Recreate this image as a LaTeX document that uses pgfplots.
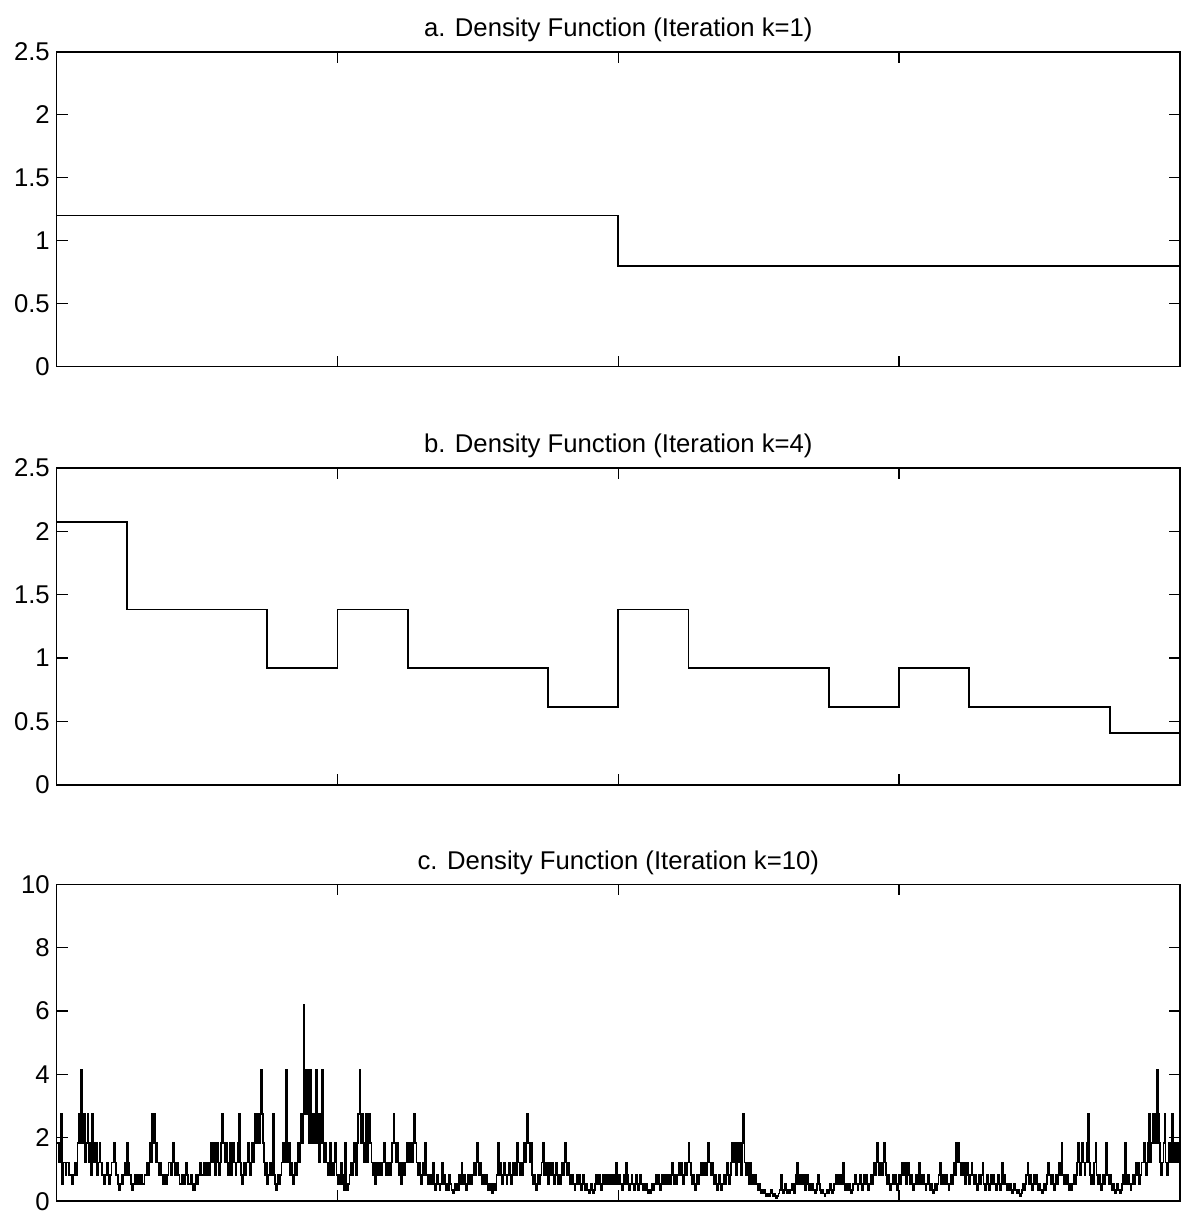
\documentclass[border=0pt]{standalone}
\usepackage{fontspec}
\setmainfont{Liberation Sans}
\usepackage{pgfplots}
\pgfplotsset{compat=1.18}

% x runs over the 1024 dyadic cells of [0,1]
\pgfplotsset{dens/.style={
    scale only axis, width=568.5pt, anchor=south west,
    xmin=0, xmax=1024, xtick={256,512,768}, xticklabels={},
    tick align=inside, major tick length=5.5pt,
    axis line style={line width=0.8pt},
    every tick/.style={black, line width=0.6pt},
    /pgf/number format/assume math mode=true,
    tick label style={font=\fontsize{13}{15}\selectfont},
    title style={font=\fontsize{13}{15}\selectfont, yshift=-4.5pt},
  },
  cascade/.style={const plot, black, line width=0.9pt, no marks},
}

\begin{document}
\begin{tikzpicture}
\path[use as bounding box] (0,-7.5pt) rectangle (599.5pt,608.5pt);

\begin{axis}[dens, at={(28.7pt,423pt)}, height=159.3pt,
    ymin=0, ymax=2.5, ytick={0,0.5,1,1.5,2,2.5},
    title={a. Density Function (Iteration k=1)}]
  \addplot[cascade] coordinates {(0,1.2)(512,0.8)(1024,0.8)};
\end{axis}

\begin{axis}[dens, at={(28.7pt,211.3pt)}, height=160.3pt,
    ymin=0, ymax=2.5, ytick={0,0.5,1,1.5,2,2.5},
    title={b. Density Function (Iteration k=4)}]
  \addplot[cascade] coordinates {
    (0,2.0736)(64,1.3824)(128,1.3824)(192,0.9216)(256,1.3824)(320,0.9216)
    (384,0.9216)(448,0.6144)(512,1.3824)(576,0.9216)(640,0.9216)(704,0.6144)
    (768,0.9216)(832,0.6144)(896,0.6144)(960,0.4096)(1024,0.4096)};
\end{axis}

\begin{axis}[dens, at={(28.7pt,0.5pt)}, height=160.4pt,
    ymin=0, ymax=10, ytick={0,2,4,6,8,10},
    title={c. Density Function (Iteration k=10)}]
  \addplot[cascade] coordinates {
(0,1.83)(2,1.22)(3,1.83)(4,2.75)(5,0.54)(6,1.22)(8,0.815)(9,1.22)(11,0.815)
(12,0.815)(14,0.54)(15,0.815)(17,1.22)(18,0.815)
(19,1.83)(20,2.75)(21,1.83)(22,4.13)(23,2.75)(24,1.83)(25,2.75)(26,1.22)(27,1.83)(28,2.75)(29,1.22)(30,1.83)(31,0.815)(32,2.75)(33,1.22)
(34,1.83)(35,1.22)(36,1.83)(37,0.815)(38,1.22)(39,1.83)(40,1.22)
(41,0.815)(43,0.54)(44,0.815)(46,1.22)(47,0.815)(48,0.54)(49,0.815)
(50,1.22)(52,1.83)(53,1.22)(54,0.815)(56,0.54)
(57,0.36)(58,0.54)(59,0.815)(60,0.54)(61,0.815)(62,1.22)(63,0.815)(64,1.83)(65,1.22)
(66,0.815)(68,0.54)(69,0.36)(70,0.54)(71,0.815)(72,0.54)(73,0.815)
(75,0.54)(76,0.815)(78,0.54)(80,0.815)(82,1.22)(83,0.815)
(84,1.22)(85,1.83)(86,1.22)(87,2.75)(88,1.83)(89,2.75)(90,1.22)(91,1.83)(92,1.22)(93,0.815)(94,1.22)
(95,0.815)(97,0.54)(98,0.815)(100,0.54)(101,0.815)
(102,1.22)(104,0.815)(105,1.22)(106,1.83)(107,1.22)(108,0.815)(110,1.22)
(111,0.815)(112,0.54)(114,0.815)(116,0.54)(117,0.815)(118,1.22)(119,0.815)
(120,0.54)(122,0.815)(123,0.54)(124,0.36)(126,0.54)(127,0.815)(128,0.54)
(129,0.815)(131,1.22)(132,0.815)(134,1.22)(136,0.815)(137,1.22)(139,0.815)
(140,1.22)(141,1.83)(142,1.22)(143,1.83)(144,0.815)(145,1.22)(146,1.83)(147,1.22)(148,0.815)(149,1.22)(150,1.83)(151,2.75)(152,1.83)
(153,1.22)(154,1.83)(155,1.22)(156,0.815)(157,1.22)(158,1.83)(159,0.815)(160,1.22)(161,1.83)(162,1.22)(163,0.815)(164,1.22)(165,1.83)(166,2.75)(167,1.22)
(168,0.815)(169,0.54)(170,0.815)(171,1.22)(172,0.815)(173,1.22)(174,1.83)(175,1.22)(176,0.815)(177,1.22)(178,1.83)
(179,1.22)(180,1.83)(181,2.75)(182,1.83)(183,2.75)(184,1.83)(185,2.75)(186,4.13)(187,2.75)
(188,1.83)(189,1.22)(190,0.815)(191,1.22)(192,0.54)(193,0.815)(194,1.22)(195,0.815)(196,1.22)
(197,2.75)(198,0.815)(199,0.54)(200,0.36)(201,0.54)(202,0.815)(203,0.54)(204,0.815)(205,1.22)
(206,1.83)(208,1.22)(209,4.13)(210,1.83)(211,1.22)(212,1.83)(213,0.815)(214,1.22)(215,0.54)(216,0.815)(217,1.22)(218,0.815)(219,1.22)
(220,1.83)(221,1.22)(222,1.83)(223,2.75)(224,1.83)(225,6.19)(226,2.75)(227,4.13)(228,2.75)(229,4.13)(230,1.83)(231,4.13)(232,2.75)
(233,1.83)(234,2.75)(235,1.83)(236,4.13)(237,1.83)(238,2.75)(239,1.22)(240,1.83)(241,2.75)(242,4.13)(243,1.83)
(244,1.22)(245,1.83)(246,1.22)(247,0.815)(248,1.22)(249,1.83)(250,0.815)(251,1.22)
(252,0.815)(253,1.22)(254,1.83)(255,0.815)(256,0.54)(257,0.815)(258,0.54)(259,1.22)(260,0.815)
(261,0.54)(262,0.36)(263,1.83)(264,0.54)(265,0.36)(266,0.54)
(267,0.815)(268,1.22)(269,0.815)(270,1.22)(271,1.83)(272,1.22)(273,0.815)(274,1.83)(275,2.75)(276,4.13)(277,1.83)(278,2.75)
(279,1.83)(280,1.22)(281,1.83)(282,2.75)(283,1.22)(284,1.83)(285,2.75)(286,1.83)(287,1.22)(288,0.815)(289,1.22)(290,0.54)(291,0.815)
(292,1.22)(294,0.815)(295,1.22)(296,0.815)(297,1.22)(298,1.83)(299,1.22)(300,0.815)(301,1.22)(302,0.815)(303,1.22)(304,0.815)(305,1.22)
(306,1.83)(307,2.75)(308,1.83)(309,1.22)(310,1.83)(311,1.22)
(312,0.815)(313,1.22)(314,0.54)(315,0.815)(316,1.22)(317,0.815)(318,1.22)(319,1.83)(320,1.22)
(321,1.83)(322,1.22)(323,1.83)(324,1.22)(325,1.83)(326,2.75)(327,1.83)(328,1.22)
(329,0.815)(330,1.22)(331,0.815)(332,0.54)(333,0.815)(334,1.22)(335,0.815)(336,1.83)(337,0.815)
(338,0.54)(339,0.815)(340,0.54)(341,0.815)(342,0.54)(343,1.22)(344,0.54)(345,0.36)(346,0.54)(347,0.815)(348,0.54)(349,0.36)(350,0.54)(351,1.22)
(352,0.54)(353,0.815)(354,0.54)(355,0.36)(356,0.54)(357,0.36)(358,0.815)(359,0.54)(360,0.36)(361,0.24)(362,0.36)(363,0.54)(364,0.36)
(365,0.54)(366,0.36)(367,0.815)(368,0.54)(369,1.22)(370,0.54)(371,0.815)(372,0.54)(373,0.36)(374,0.54)(375,0.815)(376,0.54)(377,0.815)
(378,0.54)(379,0.815)(380,1.22)(381,0.815)(382,1.22)(383,1.83)(384,1.22)(385,0.815)(386,1.22)(387,0.815)(388,0.54)(389,0.815)(390,0.54)(391,0.815)
(392,0.54)(393,0.36)(394,0.54)(395,0.36)(396,0.54)(397,0.24)(398,0.36)(399,0.54)(400,0.36)
(401,0.815)(402,1.83)(403,0.815)(404,1.22)(405,0.815)(406,0.54)(407,0.815)(408,1.22)(409,0.815)(410,0.54)(411,0.815)(412,1.22)(413,0.815)(414,0.54)(415,0.815)(416,1.22)(417,0.815)(418,1.22)(419,0.815)(420,1.83)(421,1.22)
(422,0.815)(423,1.22)(424,0.815)(425,1.22)(426,1.83)(427,1.22)(428,1.83)(429,2.75)(430,1.83)(431,1.22)(432,1.83)
(433,0.815)(434,0.54)(435,0.815)(436,0.54)(437,0.36)(438,0.54)(439,0.815)(440,0.54)(441,0.815)
(442,1.22)(443,1.83)(444,0.815)(445,1.22)(446,0.815)(447,1.22)(448,0.54)(449,0.815)(450,1.22)
(451,0.815)(452,1.22)(453,0.54)(454,0.815)(455,1.22)(456,0.815)(457,0.54)(458,0.815)(459,0.54)
(460,0.815)(461,1.22)(462,0.815)(463,1.83)(464,1.22)(465,0.815)(466,1.22)(467,0.815)(468,0.54)
(469,0.54)(470,0.815)(471,0.54)(472,0.36)(473,0.54)(474,0.815)(475,0.54)(476,0.815)(477,0.54)(478,0.36)(479,0.54)(480,0.815)(481,0.54)(482,0.36)
(483,0.54)(484,0.36)(485,0.24)(486,0.36)(487,0.54)(488,0.36)(489,0.24)(490,0.36)(491,0.54)
(492,0.815)(493,0.54)(494,0.815)(495,0.54)(496,0.36)(497,0.54)(498,0.815)(499,0.54)(500,0.815)
(501,0.54)(502,0.815)(503,0.54)(504,0.815)(505,0.54)(506,0.815)(507,0.54)(508,0.815)(509,0.54)(510,1.22)(511,0.815)(512,0.54)(513,0.815)(514,0.54)(515,0.36)(516,0.54)(517,0.815)(518,0.54)(519,1.22)(520,0.815)
(521,0.54)(522,0.36)(523,0.54)(524,0.815)(525,0.54)(526,0.36)(527,0.54)(528,0.815)(529,0.54)(530,0.36)(531,0.54)
(532,0.815)(533,0.54)(534,0.36)(535,0.54)(536,0.36)(537,0.54)(538,0.36)(539,0.24)(540,0.36)(541,0.24)(542,0.36)(543,0.54)(544,0.36)(545,0.54)
(546,0.815)(547,0.54)(548,0.815)(549,0.54)(550,0.36)(551,0.54)(552,0.815)(553,0.54)(554,0.815)
(555,0.54)(556,0.815)(557,0.54)(558,0.815)(559,0.54)(560,0.815)(561,1.22)(562,0.815)(563,0.54)(564,0.815)(565,0.54)(566,0.815)(567,1.22)(568,0.815)(569,1.22)(570,0.815)(571,0.54)(572,0.815)
(573,1.22)(574,0.815)(575,1.22)(576,1.83)(577,1.22)(578,0.815)
(579,0.54)(580,0.815)(581,0.54)(582,0.36)(583,0.54)(584,0.815)(585,0.54)(586,0.815)
(587,1.22)(588,0.815)(589,1.22)(590,0.815)(591,1.22)(592,0.815)(593,1.22)(594,1.83)(595,1.22)(596,0.815)(597,1.22)(598,0.815)(599,0.54)
(600,0.815)(601,0.54)(602,0.36)(603,0.54)(604,0.815)(605,0.54)(606,0.36)(607,0.54)(608,0.815)
(609,0.54)(610,0.815)(611,1.22)(612,0.815)(613,0.54)(614,0.815)(615,1.22)
(616,1.83)(617,1.22)(618,1.83)(619,0.815)(620,1.83)(621,1.22)(622,1.83)(623,1.22)(624,0.815)(625,1.83)(626,2.75)(627,1.22)
(628,0.815)(629,1.22)(630,0.815)(631,0.54)(632,1.22)(633,0.815)(634,0.54)(635,0.815)(636,0.54)
(637,0.815)(638,0.54)(639,0.36)(640,0.54)(641,0.36)(642,0.24)(643,0.36)(644,0.24)(645,0.36)
(646,0.24)(647,0.16)(648,0.24)(649,0.16)(650,0.24)(651,0.36)(652,0.24)(653,0.16)(654,0.24)(655,0.16)(656,0.107)(657,0.16)(658,0.24)(659,0.36)(660,0.815)(661,0.36)(662,0.24)(663,0.36)
(664,0.54)(665,0.36)(666,0.24)(667,0.36)(668,0.24)(669,0.36)(670,0.54)(671,0.36)(672,0.24)(673,0.54)(674,0.815)(675,1.22)(676,0.54)
(677,0.815)(678,0.54)(679,0.815)(680,0.54)(681,0.815)(682,0.36)(683,0.54)(684,0.815)(685,0.54)
(686,0.36)(687,0.54)(688,0.36)(689,0.54)(690,0.36)(691,0.24)(692,0.36)(693,0.54)(694,0.815)(695,0.54)
(696,0.36)(697,0.24)(698,0.36)(699,0.24)(700,0.16)(701,0.24)(702,0.36)(703,0.24)(704,0.36)(705,0.54)(706,0.36)(707,0.24)(708,0.36)
(709,0.54)(710,0.815)(711,0.54)(712,0.815)(713,0.54)(714,0.815)(715,0.54)(716,0.815)(717,1.22)(718,0.54)
(719,0.36)(720,0.54)(721,0.36)(722,0.54)(723,0.36)(724,0.24)(725,0.36)(726,0.54)
(727,0.54)(728,0.815)(729,0.54)(730,0.36)(731,0.54)(732,0.815)(733,0.54)(734,0.36)(735,0.54)(736,0.815)(737,0.54)(738,0.815)(739,0.54)(740,0.36)(741,0.54)(742,0.815)(743,0.54)(744,0.815)
(745,1.22)(746,0.815)(747,1.22)(748,1.83)(749,1.22)(750,0.815)(751,1.22)(752,0.815)(753,1.22)(754,1.83)(755,1.22)(756,0.815)
(757,0.54)(758,0.815)(759,0.54)(760,0.36)(761,0.54)(762,0.815)(763,0.54)(764,0.815)(765,0.54)(766,0.36)(767,0.54)
(768,0.815)(769,0.54)(770,0.815)(771,1.22)(772,0.815)(773,1.22)(774,0.54)(775,0.815)(776,1.22)
(777,0.815)(778,0.54)(779,0.815)(780,0.54)(781,0.36)(782,0.54)(783,0.815)(784,0.54)(785,0.815)(786,1.22)(787,0.54)(788,0.815)(789,0.54)(790,0.815)(791,0.54)(792,0.36)(793,0.54)(794,0.815)
(795,0.54)(796,0.36)(797,0.54)(798,0.36)(799,0.24)(800,0.36)(801,0.54)(802,0.36)(803,0.54)
(804,0.815)(805,1.22)(806,0.54)(807,0.815)(808,0.54)(809,0.815)(810,0.54)(811,0.815)(812,0.54)(813,0.36)(814,0.54)(815,0.815)(816,0.54)(817,0.815)
(818,1.22)(819,0.815)(820,1.83)(821,1.22)(822,1.83)(823,1.22)(824,0.815)
(825,1.22)(826,0.815)(827,1.22)(828,0.54)(829,0.815)(830,1.22)(831,0.815)(832,0.54)(833,0.815)(834,1.22)(835,0.815)
(836,0.54)(837,0.815)(838,0.54)(839,0.36)(840,0.54)(841,0.815)(842,0.54)(843,0.815)(844,1.22)(845,0.54)(846,0.36)(847,0.54)(848,0.815)(849,0.54)(850,0.36)(851,0.54)(852,0.815)(853,0.54)
(854,0.815)(855,0.54)(856,0.36)(857,0.54)(858,0.815)(859,0.54)(860,0.36)(861,0.54)(862,1.22)(863,0.54)(864,0.815)(865,0.54)(866,0.36)
(867,0.54)(868,0.36)(869,0.54)(870,0.36)(871,0.24)(872,0.36)(873,0.54)(874,0.36)(875,0.24)(876,0.36)(877,0.24)(878,0.16)(879,0.24)(880,0.36)
(881,0.54)(882,0.36)(883,0.54)(884,0.815)(885,1.22)(886,0.54)(887,0.815)(888,0.54)(889,0.36)
(890,0.54)(891,0.815)(892,0.54)(893,0.815)(894,0.54)(895,0.36)(896,0.54)(897,0.36)(898,0.24)(899,0.36)(900,0.54)(901,0.36)(902,0.54)(903,0.815)
(904,1.22)(905,0.815)(906,0.54)(907,0.815)(908,0.54)(909,0.36)(910,0.54)(911,0.815)(912,0.54)(913,0.815)(914,1.22)(915,0.815)(916,1.83)(917,0.815)
(918,0.54)(919,0.815)(920,0.54)(921,0.815)(922,0.54)(923,0.36)(924,0.54)(925,0.36)(926,0.54)(927,0.815)(928,0.54)(929,0.815)(930,1.22)
(931,1.83)(932,1.22)(933,0.815)(934,1.22)(935,1.83)(936,1.22)(937,0.815)(938,1.22)(939,1.83)(940,2.75)(941,1.22)
(942,0.815)(943,0.54)(944,0.815)(945,0.54)(946,1.22)(947,1.83)(948,0.815)(949,0.54)(950,0.815)(951,0.54)(952,0.36)(953,0.54)(954,0.815)(955,0.54)(956,0.815)
(957,1.83)(958,0.815)(959,0.54)(960,0.815)(961,0.54)
(962,0.36)(963,0.54)(964,0.36)(965,0.24)(966,0.36)(967,0.54)(968,0.36)(969,0.24)(970,0.36)
(971,0.54)(972,0.815)(973,0.54)(974,1.83)(975,0.815)
(976,0.54)(977,0.815)(978,0.54)(979,0.36)(980,0.54)(981,0.815)(982,0.54)(983,0.815)(984,1.22)(985,0.815)(986,1.22)(987,0.54)(988,0.815)(989,1.22)
(990,1.22)(991,1.83)(992,1.22)(993,0.815)(994,1.22)(995,1.83)(996,2.75)(997,1.22)(998,1.83)(999,2.75)(1000,1.83)(1001,2.75)(1002,1.83)(1003,4.13)(1004,2.75)
(1005,1.83)(1006,1.22)(1007,0.815)(1008,1.22)(1009,1.83)(1010,2.75)(1011,1.22)(1012,0.815)(1013,1.22)(1014,1.83)(1015,1.22)(1016,1.83)(1017,2.75)(1018,1.22)(1019,1.83)(1020,1.22)(1021,1.83)(1022,1.22)(1023,1.83)(1024,1.83)
  };
\end{axis}
\end{tikzpicture}
\end{document}
